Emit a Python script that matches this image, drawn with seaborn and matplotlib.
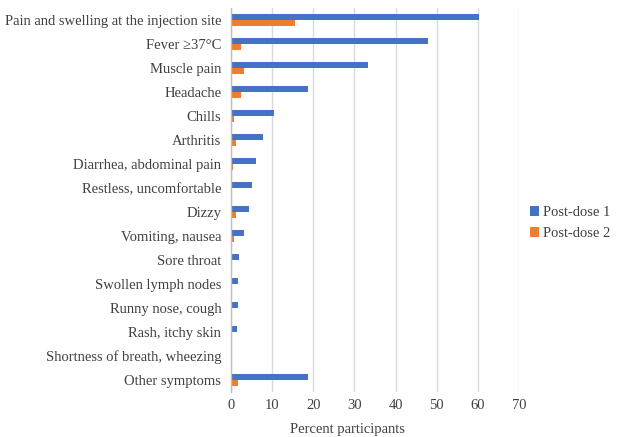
import matplotlib
matplotlib.use("Agg")
import matplotlib.pyplot as plt
import seaborn as sns
import pandas as pd

symptoms = [
    "Pain and swelling at the injection site",
    "Fever \u226537\u00b0C",
    "Muscle pain",
    "Headache",
    "Chills",
    "Arthritis",
    "Diarrhea, abdominal pain",
    "Restless, uncomfortable",
    "Dizzy",
    "Vomiting, nausea",
    "Sore throat",
    "Swollen lymph nodes",
    "Runny nose, cough",
    "Rash, itchy skin",
    "Shortness of breath, wheezing",
    "Other symptoms",
]
dose1 = [60.2, 47.8, 33.2, 18.7, 10.5, 7.7, 6.1, 5.2, 4.4, 3.2, 1.9, 1.6, 1.6, 1.5, 0.2, 18.7]
dose2 = [15.6, 2.4, 3.2, 2.4, 0.8, 1.1, 0.4, 0.2, 1.1, 0.8, 0.1, 0.0, 0.0, 0.0, 0.0, 1.8]
series = ["Post-dose 1", "Post-dose 2"]
x_ticks = [0, 10, 20, 30, 40, 50, 60, 70]

df = pd.DataFrame({
    "Symptom": symptoms * 2,
    "Percent": dose1 + dose2,
    "Dose": [series[0]] * len(symptoms) + [series[1]] * len(symptoms),
})

sns.set_theme(style="white")
plt.rcParams["font.family"] = ["Liberation Serif", "DejaVu Serif"]
text_color = "#404040"
fs = 10.5

fig = plt.figure(figsize=(6.22, 4.37), dpi=100)
ax = fig.add_axes([231 / 622, 1 - 392 / 437, (519 - 231) / 622, 384 / 437])

sns.barplot(
    data=df, x="Percent", y="Symptom", hue="Dose", order=symptoms,
    hue_order=series, palette=["#4472C4", "#ED7D31"], width=0.5,
    orient="h", ax=ax, saturation=1, linewidth=0,
)

ax.set_xlim(0, 70)
ax.set_xticks(x_ticks)
ax.set_xticklabels([str(t) for t in x_ticks])
ax.grid(axis="x", color="#D9D9D9", linewidth=1)
ax.set_axisbelow(True)
for side in ["top", "right", "bottom"]:
    ax.spines[side].set_visible(False)
ax.spines["left"].set_color("#BFBFBF")
ax.spines["left"].set_linewidth(1)
ax.tick_params(axis="both", length=0, labelsize=fs, colors=text_color)
ax.tick_params(axis="y", pad=7)
ax.tick_params(axis="x", pad=5)
ax.set_ylabel("")
ax.set_xlabel("")
fig.text(347 / 622, 1 - 430 / 437, "Percent participants", fontsize=fs,
         color=text_color, ha="center", va="center")

ax.legend(
    loc="center left", bbox_to_anchor=(0.993, 0.44), frameon=False,
    fontsize=fs, handlelength=0.6, handleheight=0.6, handletextpad=0.3,
    labelspacing=0.55, labelcolor=text_color,
)

fig.savefig("out.png", dpi=100)
